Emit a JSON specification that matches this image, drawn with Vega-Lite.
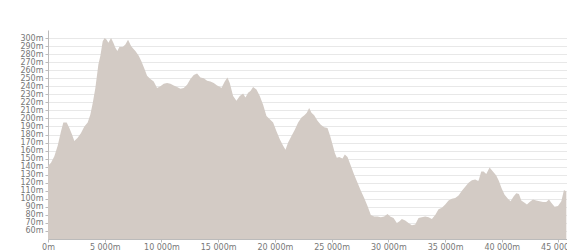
{
  "$schema": "https://vega.github.io/schema/vega-lite/v6.json",
  "autosize": {"type": "none"},
  "padding": {"left": 48, "top": 30, "right": 0, "bottom": 11},
  "width": 519,
  "height": 209,
  "background": "white",
  "data": {
    "values": [
      {"d": 0, "e": 141}, {"d": 265, "e": 145}, {"d": 560, "e": 153}, {"d": 853, "e": 166},
      {"d": 1147, "e": 184}, {"d": 1353, "e": 195}, {"d": 1647, "e": 195}, {"d": 1882, "e": 188},
      {"d": 2117, "e": 180}, {"d": 2323, "e": 172}, {"d": 2617, "e": 176}, {"d": 2911, "e": 182},
      {"d": 3205, "e": 190}, {"d": 3499, "e": 195}, {"d": 3734, "e": 205}, {"d": 3940, "e": 219},
      {"d": 4175, "e": 238}, {"d": 4440, "e": 267}, {"d": 4616, "e": 278}, {"d": 4822, "e": 296},
      {"d": 4998, "e": 300}, {"d": 5174, "e": 298}, {"d": 5322, "e": 294}, {"d": 5557, "e": 300},
      {"d": 5763, "e": 294}, {"d": 5939, "e": 288}, {"d": 6115, "e": 284}, {"d": 6292, "e": 289},
      {"d": 6586, "e": 289}, {"d": 6821, "e": 292}, {"d": 7056, "e": 298}, {"d": 7321, "e": 290},
      {"d": 7500, "e": 287}, {"d": 7703, "e": 284}, {"d": 7997, "e": 278}, {"d": 8232, "e": 271},
      {"d": 8526, "e": 261}, {"d": 8732, "e": 253}, {"d": 9026, "e": 249}, {"d": 9320, "e": 246},
      {"d": 9614, "e": 238}, {"d": 9908, "e": 240}, {"d": 10202, "e": 243}, {"d": 10496, "e": 244},
      {"d": 10790, "e": 243}, {"d": 11084, "e": 241}, {"d": 11378, "e": 239}, {"d": 11672, "e": 237},
      {"d": 11966, "e": 238}, {"d": 12260, "e": 242}, {"d": 12554, "e": 249}, {"d": 12848, "e": 254},
      {"d": 13142, "e": 256}, {"d": 13436, "e": 251}, {"d": 13730, "e": 250}, {"d": 14024, "e": 247},
      {"d": 14318, "e": 246}, {"d": 14612, "e": 244}, {"d": 14906, "e": 241}, {"d": 15171, "e": 239},
      {"d": 15288, "e": 238}, {"d": 15582, "e": 246}, {"d": 15817, "e": 251}, {"d": 16023, "e": 244},
      {"d": 16317, "e": 228}, {"d": 16611, "e": 222}, {"d": 16905, "e": 228}, {"d": 17199, "e": 231},
      {"d": 17405, "e": 226}, {"d": 17640, "e": 232}, {"d": 17846, "e": 234}, {"d": 18081, "e": 239},
      {"d": 18375, "e": 236}, {"d": 18669, "e": 228}, {"d": 18963, "e": 217}, {"d": 19257, "e": 203},
      {"d": 19551, "e": 199}, {"d": 19845, "e": 195}, {"d": 20139, "e": 184}, {"d": 20433, "e": 174},
      {"d": 20727, "e": 166}, {"d": 20933, "e": 161}, {"d": 21168, "e": 170}, {"d": 21462, "e": 178},
      {"d": 21756, "e": 186}, {"d": 22050, "e": 195}, {"d": 22344, "e": 201}, {"d": 22600, "e": 204},
      {"d": 22815, "e": 207}, {"d": 23021, "e": 213}, {"d": 23226, "e": 207}, {"d": 23462, "e": 204},
      {"d": 23756, "e": 197}, {"d": 24050, "e": 192}, {"d": 24343, "e": 189}, {"d": 24637, "e": 188},
      {"d": 24873, "e": 178}, {"d": 25079, "e": 168}, {"d": 25285, "e": 157}, {"d": 25461, "e": 151},
      {"d": 25667, "e": 152}, {"d": 25961, "e": 150}, {"d": 26167, "e": 155}, {"d": 26402, "e": 152},
      {"d": 26696, "e": 141}, {"d": 26990, "e": 130}, {"d": 27284, "e": 120}, {"d": 27578, "e": 110},
      {"d": 27871, "e": 101}, {"d": 28165, "e": 91}, {"d": 28459, "e": 80}, {"d": 28753, "e": 78},
      {"d": 29047, "e": 78}, {"d": 29341, "e": 77}, {"d": 29635, "e": 78}, {"d": 29929, "e": 81},
      {"d": 30164, "e": 78}, {"d": 30458, "e": 76}, {"d": 30752, "e": 70}, {"d": 30987, "e": 72},
      {"d": 31193, "e": 75}, {"d": 31487, "e": 73}, {"d": 31781, "e": 70}, {"d": 32075, "e": 67},
      {"d": 32369, "e": 68}, {"d": 32663, "e": 76}, {"d": 32957, "e": 77}, {"d": 33251, "e": 78},
      {"d": 33545, "e": 77}, {"d": 33839, "e": 75}, {"d": 34133, "e": 80}, {"d": 34427, "e": 87},
      {"d": 34721, "e": 89}, {"d": 35015, "e": 93}, {"d": 35309, "e": 98}, {"d": 35603, "e": 100},
      {"d": 35897, "e": 101}, {"d": 36191, "e": 104}, {"d": 36485, "e": 110}, {"d": 36779, "e": 115},
      {"d": 37073, "e": 120}, {"d": 37367, "e": 123}, {"d": 37661, "e": 124}, {"d": 37926, "e": 122},
      {"d": 37985, "e": 124}, {"d": 38191, "e": 134}, {"d": 38397, "e": 134}, {"d": 38632, "e": 131},
      {"d": 38926, "e": 139}, {"d": 39220, "e": 134}, {"d": 39514, "e": 129}, {"d": 39749, "e": 122},
      {"d": 39984, "e": 113}, {"d": 40249, "e": 105}, {"d": 40543, "e": 100}, {"d": 40778, "e": 97},
      {"d": 41042, "e": 103}, {"d": 41278, "e": 107}, {"d": 41513, "e": 106}, {"d": 41719, "e": 98},
      {"d": 42013, "e": 95}, {"d": 42219, "e": 93}, {"d": 42454, "e": 96}, {"d": 42748, "e": 99},
      {"d": 43042, "e": 98}, {"d": 43336, "e": 97}, {"d": 43630, "e": 96}, {"d": 43924, "e": 96},
      {"d": 44160, "e": 99}, {"d": 44366, "e": 95}, {"d": 44660, "e": 90}, {"d": 44954, "e": 91},
      {"d": 45248, "e": 97}, {"d": 45483, "e": 111}, {"d": 45689, "e": 109}
    ]
  },
  "mark": {"type": "area", "color": "#d3cbc5", "clip": true, "interpolate": "linear"},
  "encoding": {
    "x": {
      "field": "d",
      "type": "quantitative",
      "scale": {"domain": [0, 45750], "nice": false, "zero": false},
      "axis": {
        "title": null,
        "values": [0, 5000, 10000, 15000, 20000, 25000, 30000, 35000, 40000, 45000],
        "labelExpr": "replace(format(datum.value, ','), ',', ' ') + 'm'",
        "grid": false,
        "tickSize": 3,
        "labelPadding": 1,
        "labelFlush": false,
        "labelOverlap": false
      }
    },
    "y": {
      "field": "e",
      "type": "quantitative",
      "scale": {"domain": [50, 310], "nice": false, "zero": false},
      "axis": {
        "title": null,
        "values": [60, 70, 80, 90, 100, 110, 120, 130, 140, 150, 160, 170, 180, 190, 200, 210, 220, 230, 240, 250, 260, 270, 280, 290, 300],
        "labelExpr": "datum.value + 'm'",
        "grid": true,
        "tickSize": 3,
        "labelPadding": 2,
        "labelOverlap": false,
        "labelFlush": false
      }
    }
  },
  "config": {
    "view": {"stroke": null},
    "axis": {
      "labelFont": "DejaVu Sans",
      "labelFontSize": 8,
      "labelColor": "#777777",
      "domainColor": "#bbbbbb",
      "tickColor": "#bbbbbb",
      "gridColor": "#e8e8e8",
      "gridWidth": 1
    }
  }
}
